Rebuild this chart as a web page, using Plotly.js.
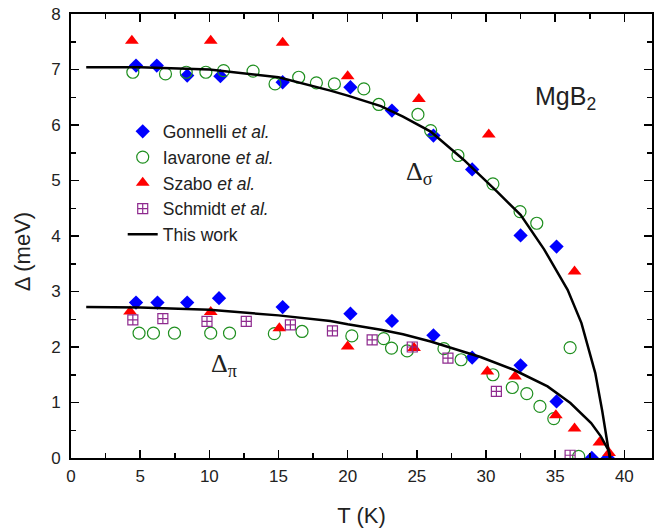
<!DOCTYPE html>
<html>
<head>
<meta charset="utf-8">
<script src="https://cdn.plot.ly/plotly-3.0.1.min.js"></script>
<style>html,body{margin:0;padding:0;background:#fff;}</style>
</head>
<body>
<div id="chart" style="width:671px;height:531px;"></div>
<script>
// Gonnelli et al. (sigma and pi gaps)
const gonnelliSigmaT = [4.7, 6.2, 8.4, 10.8, 15.3, 20.2, 23.2, 26.2, 29.0, 32.5, 35.1];
const gonnelliSigma  = [7.07, 7.07, 6.89, 6.88, 6.77, 6.68, 6.26, 5.81, 5.20, 4.01, 3.81];
const gonnelliPiT    = [4.7, 6.25, 8.4, 10.7, 15.3, 20.2, 23.2, 26.2, 29.0, 32.5, 35.1, 37.65, 38.8];
const gonnelliPi     = [2.80, 2.80, 2.80, 2.88, 2.72, 2.60, 2.47, 2.21, 1.81, 1.67, 1.02, 0.0, 0.0];

// Iavarone et al.
const iavaroneSigmaT = [4.47, 6.83, 8.33, 9.75, 11.03, 13.16, 14.75, 16.46, 17.74, 19.04, 21.17, 22.25, 25.08, 26.0, 27.97, 30.5, 32.46, 33.67, 36.08];
const iavaroneSigma  = [6.95, 6.92, 6.95, 6.95, 6.98, 6.97, 6.74, 6.86, 6.76, 6.74, 6.65, 6.37, 6.19, 5.90, 5.45, 4.94, 4.44, 4.23, 1.99];
const iavaronePiT    = [4.92, 5.96, 7.48, 10.1, 11.46, 14.7, 16.7, 20.3, 22.6, 23.17, 24.3, 26.96, 28.2, 30.5, 31.9, 32.95, 33.9, 34.9, 36.7];
const iavaronePi     = [2.25, 2.25, 2.25, 2.25, 2.25, 2.24, 2.28, 2.20, 2.15, 1.98, 1.93, 1.97, 1.77, 1.50, 1.27, 1.16, 0.93, 0.71, 0.03];

// Szabo et al.
const szaboSigmaT = [4.4, 10.1, 15.3, 20.0, 25.15, 30.2, 36.4];
const szaboSigma  = [7.52, 7.52, 7.48, 6.88, 6.47, 5.83, 3.36];
const szaboPiT    = [4.27, 10.1, 15.06, 20.0, 24.8, 30.1, 32.1, 35.05, 36.4, 38.2, 38.9];
const szaboPi     = [2.64, 2.63, 2.34, 2.01, 1.98, 1.56, 1.47, 0.77, 0.53, 0.28, 0.09];

// Schmidt et al.
const schmidtPiT = [4.47, 6.64, 9.83, 12.67, 15.86, 18.9, 21.77, 24.67, 27.25, 30.75, 36.08];
const schmidtPi  = [2.49, 2.51, 2.46, 2.46, 2.40, 2.29, 2.13, 2.00, 1.80, 1.20, 0.05];

// This work
const workSigmaT = [1.1, 5, 10, 15, 18.75, 20, 22.4, 24, 26, 28.4, 30.8, 32.5, 34.2, 35.9, 36.9, 37.9, 38.4, 38.8, 38.95];
const workSigma  = [7.04, 7.04, 7.00, 6.86, 6.62, 6.53, 6.34, 6.15, 5.88, 5.37, 4.80, 4.38, 3.76, 3.03, 2.43, 1.53, 0.85, 0.20, 0.0];
const workPiT    = [1.1, 5, 10, 15, 18.75, 20, 22.4, 24, 26, 28, 29.6, 32, 34.45, 36.1, 37.6, 38.3, 38.9, 39.0];
const workPi     = [2.72, 2.71, 2.67, 2.57, 2.47, 2.41, 2.31, 2.23, 2.10, 1.95, 1.82, 1.59, 1.29, 0.99, 0.63, 0.39, 0.12, 0.0];

const xTicks = [0, 5, 10, 15, 20, 25, 30, 35, 40];
const yTicks = [0, 1, 2, 3, 4, 5, 6, 7, 8];

const FONT = 'Liberation Sans, Arial, Helvetica, sans-serif';
const SERIF = 'Liberation Serif, Times New Roman, serif';

const traces = [
  {
    x: gonnelliSigmaT.concat(gonnelliPiT), y: gonnelliSigma.concat(gonnelliPi),
    mode: 'markers', type: 'scatter', name: 'Gonnelli <i>et al.</i>',
    marker: {symbol: 'diamond', size: 11, color: '#0000ff', line: {width: 0}}
  },
  {
    x: iavaroneSigmaT.concat(iavaronePiT), y: iavaroneSigma.concat(iavaronePi),
    mode: 'markers', type: 'scatter', name: 'Iavarone <i>et al.</i>',
    marker: {symbol: 'circle-open', size: 12, color: '#1f8f1f', line: {width: 1.2, color: '#1f8f1f'}}
  },
  {
    x: szaboSigmaT.concat(szaboPiT), y: szaboSigma.concat(szaboPi),
    mode: 'markers', type: 'scatter', name: 'Szabo <i>et al.</i>',
    marker: {symbol: 'triangle-up', size: 12, color: '#ff0000', line: {width: 0}}
  },
  {
    x: schmidtPiT, y: schmidtPi,
    mode: 'markers', type: 'scatter', name: 'Schmidt <i>et al.</i>',
    marker: {symbol: 'square-cross-open', size: 10, color: '#8e2a8e', line: {width: 1.2, color: '#8e2a8e'}}
  },
  {
    x: workSigmaT.concat([null], workPiT), y: workSigma.concat([null], workPi),
    mode: 'lines', type: 'scatter', name: 'This work',
    line: {color: '#000000', width: 2.5}, connectgaps: false
  }
];

const axisCommon = {
  showgrid: false, zeroline: false,
  showline: true, linecolor: '#000', linewidth: 2, mirror: 'ticks',
  ticks: 'inside', ticklen: 8, tickwidth: 1.5, tickcolor: '#000',
  tickfont: {family: FONT, size: 17, color: '#222'}
};

const layout = {
  width: 671, height: 531,
  margin: {l: 71, r: 19, t: 14, b: 73},
  paper_bgcolor: '#fff', plot_bgcolor: '#fff',
  font: {family: FONT, color: '#222'},
  showlegend: true,
  legend: {
    x: 0.089, y: 0.776, xanchor: 'left', yanchor: 'top',
    bgcolor: 'rgba(0,0,0,0)', borderwidth: 0,
    font: {family: FONT, size: 17.5, color: '#222'},
    tracegroupgap: 0
  },
  xaxis: Object.assign({}, axisCommon, {
    range: [0, 42], tickmode: 'array', tickvals: xTicks, ticktext: xTicks.map(String),
    ticklabelstandoff: 2,
    minor: {dtick: 2.5, ticks: 'inside', ticklen: 5, tickwidth: 1.5, tickcolor: '#000', showgrid: false},
    title: {text: 'T (K)', font: {family: FONT, size: 22, color: '#222'}, standoff: 22}
  }),
  yaxis: Object.assign({}, axisCommon, {
    range: [0, 8], tickmode: 'array', tickvals: yTicks, ticktext: yTicks.map(String),
    ticklabelstandoff: 5,
    minor: {dtick: 0.5, ticks: 'inside', ticklen: 5, tickwidth: 1.5, tickcolor: '#000', showgrid: false},
    title: {text: ''}
  }),
  annotations: [
    {x: -0.083, y: 0.465, xref: 'paper', yref: 'paper', text: 'Δ (meV)', textangle: -90, showarrow: false,
     font: {family: FONT, size: 22, color: '#222'}, xanchor: 'center', yanchor: 'middle'},
    {x: 35.75, y: 6.48, xref: 'x', yref: 'y', text: 'MgB<sub>2</sub>', showarrow: false,
     font: {family: FONT, size: 25, color: '#222'}, xanchor: 'center', yanchor: 'middle'},
    {x: 24.1, y: 5.13, xref: 'x', yref: 'y', text: 'Δ<sub>σ</sub>', showarrow: false,
     font: {family: SERIF, size: 26, color: '#222'}, xanchor: 'left', yanchor: 'middle'},
    {x: 9.95, y: 1.68, xref: 'x', yref: 'y', text: 'Δ<sub>π</sub>', showarrow: false,
     font: {family: SERIF, size: 26, color: '#222'}, xanchor: 'left', yanchor: 'middle'}
  ]
};

Plotly.newPlot('chart', traces, layout, {displayModeBar: false, staticPlot: true});
</script>
</body>
</html>
